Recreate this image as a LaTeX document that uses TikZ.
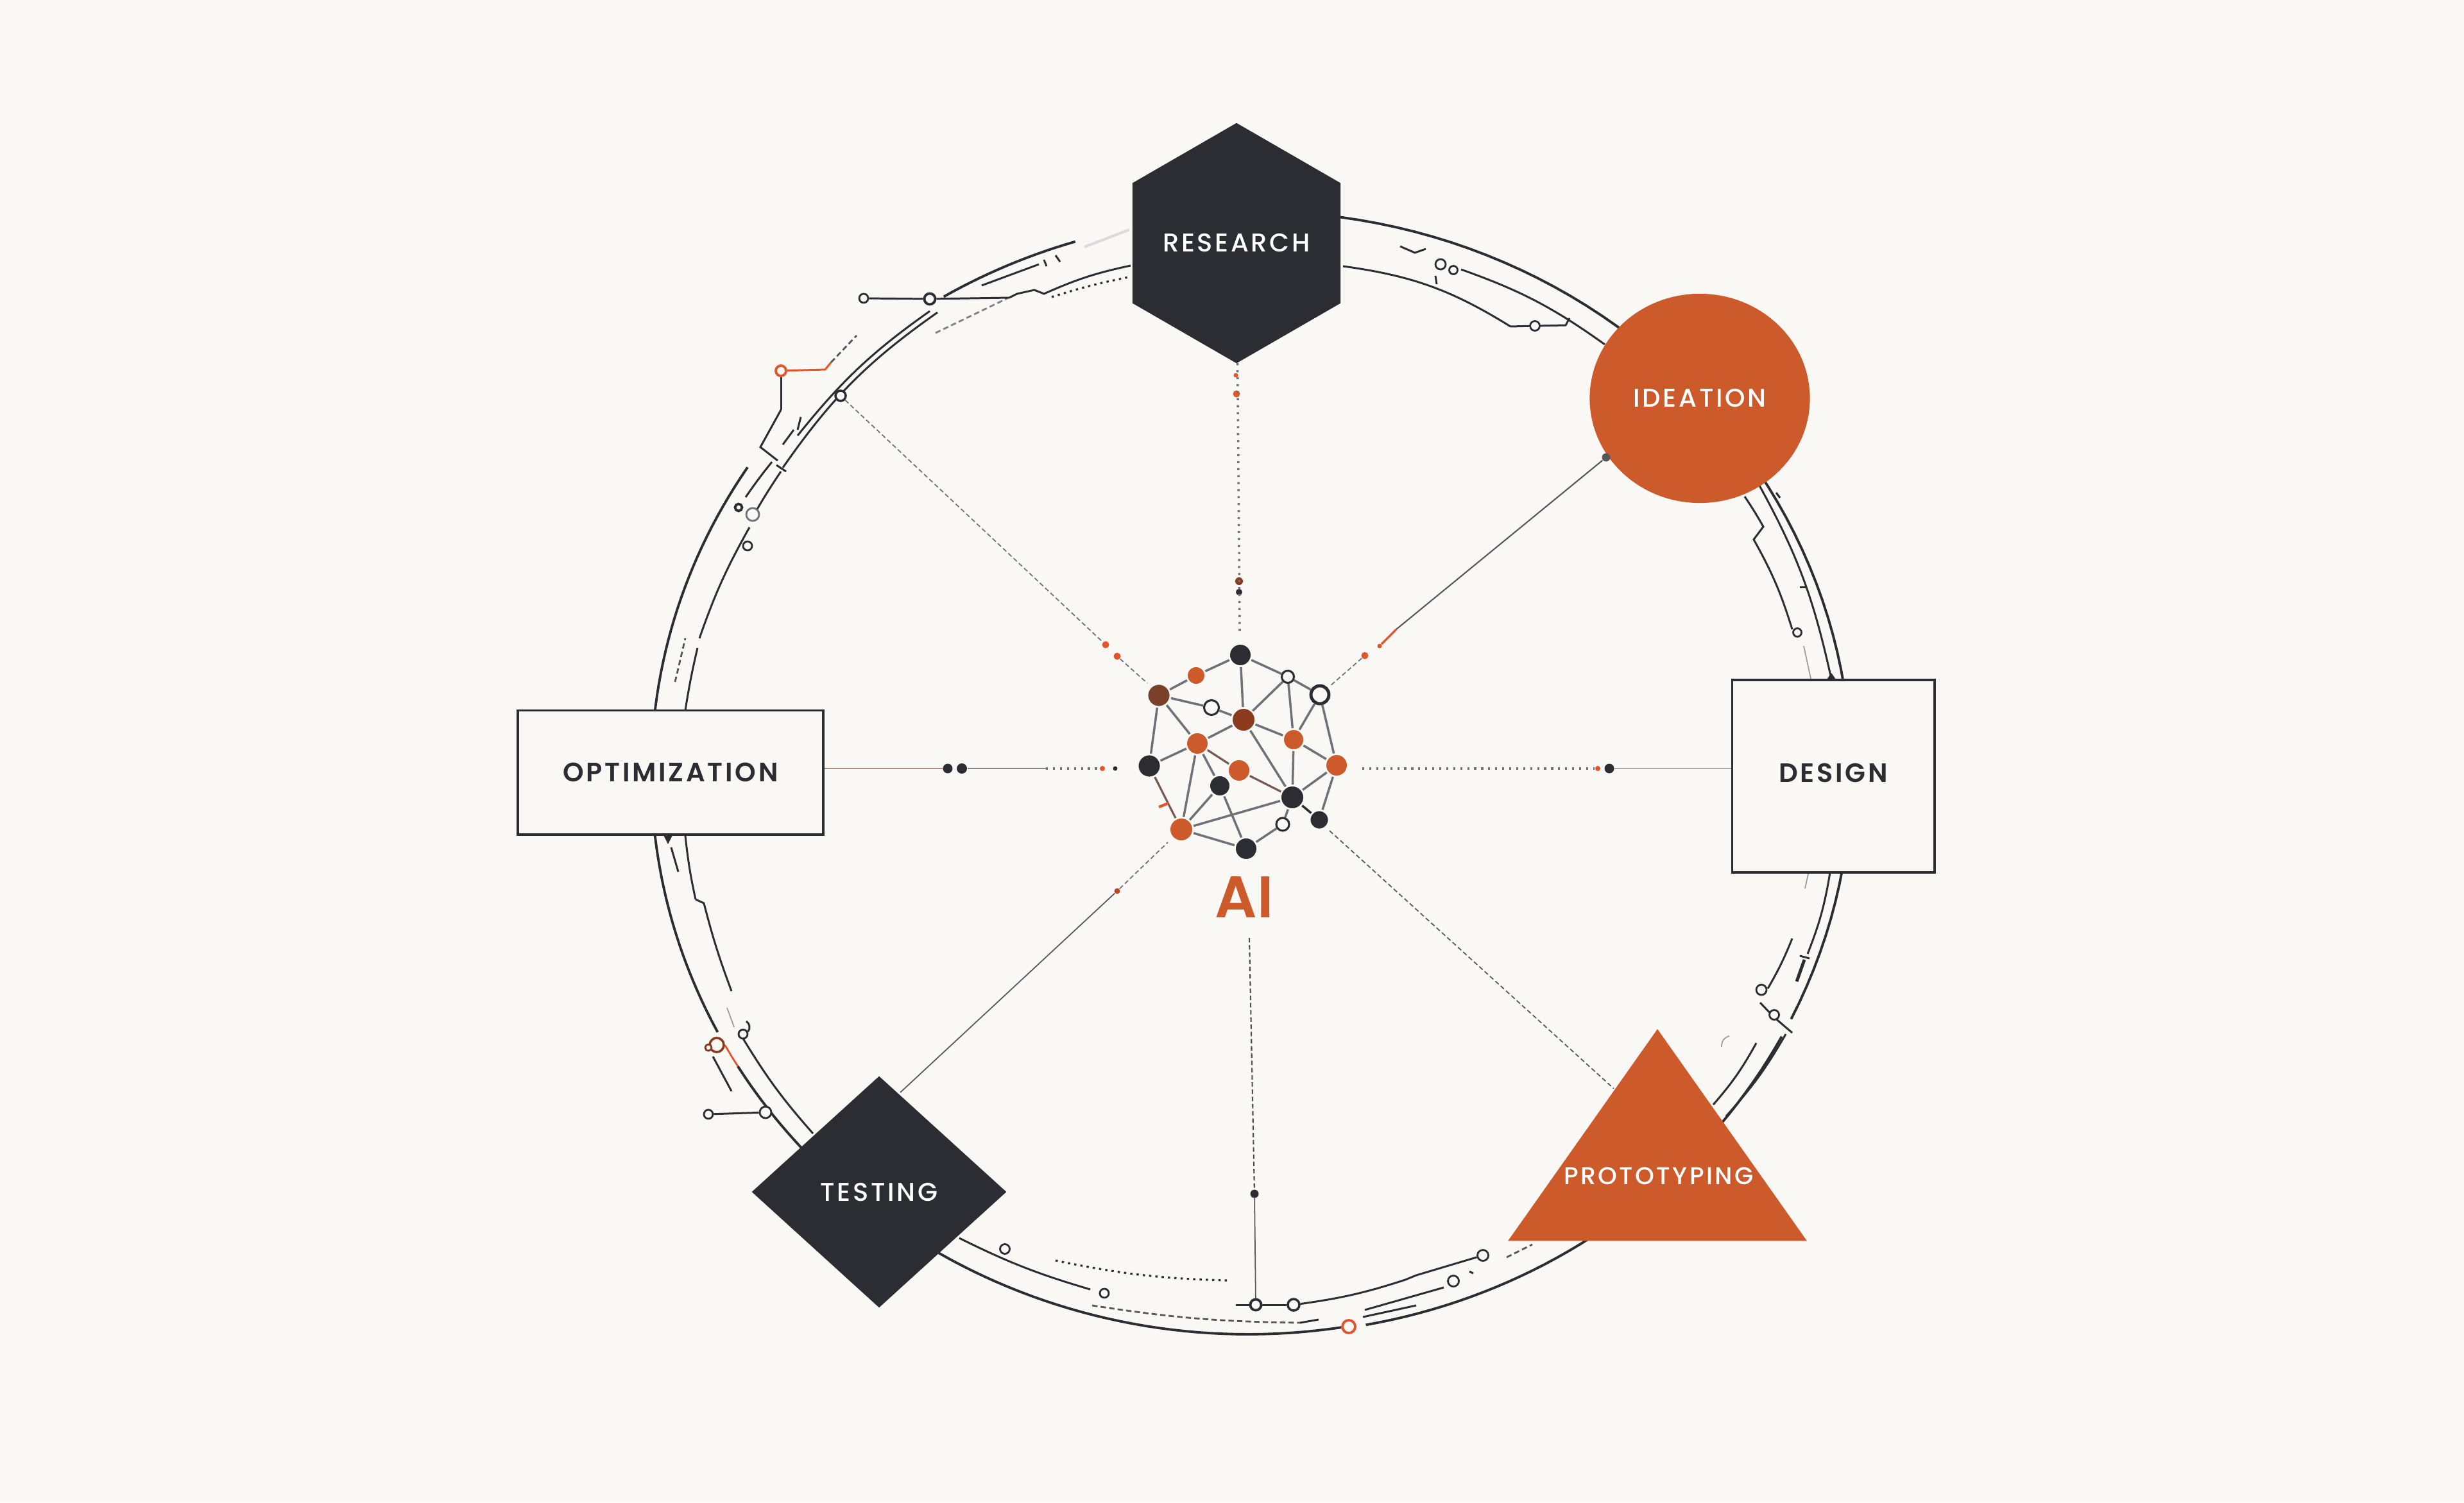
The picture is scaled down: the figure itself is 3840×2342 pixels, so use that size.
\documentclass[tikz,border=0pt]{standalone}
\usepackage{tikz}
\usepackage{xcolor}
\usepackage{fontspec}
\usetikzlibrary{shapes.geometric}
\definecolor{paper}{HTML}{FAF8F4}
\definecolor{inkdark}{HTML}{2B2D33}
\definecolor{rustorange}{HTML}{CC5A2B}
\definecolor{hotorange}{HTML}{E2552A}
\definecolor{brownhub}{HTML}{7A4029}
\definecolor{redbrownhub}{HTML}{8C3A1E}
\definecolor{edgegrey}{HTML}{6F7179}
\newfontfamily\stagefont[LetterSpace=9]{Poppins Medium}
\newfontfamily\boxfont[LetterSpace=9]{Poppins SemiBold}
\newfontfamily\aifont{Poppins SemiBold}
\begin{document}
\begin{tikzpicture}[x=.01cm, y=-.01cm,
	ringline/.style={draw=inkdark, line width=1.1pt},
	wire/.style={draw=inkdark, line width=.85pt},
	faintwire/.style={draw=edgegrey!70, line width=.5pt},
	dashwire/.style={draw=inkdark!80, line width=.8pt, dash pattern=on 2.4pt off 1.4pt},
	dotwire/.style={draw=inkdark, line width=.9pt, dash pattern=on 1pt off 1.8pt},
	tap/.style={circle, draw=inkdark, fill=paper, line width=.8pt, inner sep=0pt, minimum size=.14cm},
	taporange/.style={tap, draw=hotorange},
	spokedot/.style={draw=edgegrey, line width=1pt, dash pattern=on .9pt off 2.2pt},
	spokedash/.style={draw=edgegrey, line width=.5pt, dash pattern=on 2pt off 1.2pt},
	spokeline/.style={draw=inkdark!80, line width=.6pt},
	spokepale/.style={draw=edgegrey!60, line width=.8pt},
	speckdark/.style={circle, fill=inkdark, inner sep=0pt, minimum size=.13cm},
	speckred/.style={circle, fill=hotorange, inner sep=0pt, minimum size=.11cm},
	hubedge/.style={draw=edgegrey, line width=1pt},
	hubwarm/.style={draw=brownhub!50!edgegrey, line width=.9pt},
	hubdark/.style={circle, fill=inkdark, draw=paper, line width=.8pt, inner sep=0pt},
	huborange/.style={hubdark, fill=rustorange},
	hubbrown/.style={hubdark, fill=brownhub},
	hubrust/.style={hubdark, fill=redbrownhub},
	hubring/.style={circle, fill=paper, draw=inkdark, line width=.9pt, inner sep=0pt},
	stagewhite/.style={text=white, font=\stagefont\fontsize{11.4}{13}\selectfont, inner sep=0pt},
	stageink/.style={text=inkdark, font=\boxfont\fontsize{11.8}{13}\selectfont, inner sep=0pt},
	stagehex/.style={stagewhite, regular polygon, regular polygon sides=6, shape border rotate=30, fill=inkdark, minimum size=3.68cm},
	stageball/.style={stagewhite, ellipse, fill=rustorange, minimum width=3.43cm, minimum height=3.26cm},
	stagebox/.style={stageink, rectangle, draw=inkdark, fill=paper, line width=1.1pt},
	stagediamond/.style={stagewhite, diamond, fill=inkdark, minimum width=3.97cm, minimum height=3.61cm},
	stagetriangle/.style={isosceles triangle, isosceles triangle apex angle=70.4, shape border rotate=90, fill=rustorange, inner sep=0pt, minimum height=3.3cm, anchor=apex},
	]
	\fill[paper] (0,0) rectangle (3840,2342);
	\useasboundingbox (0,0) rectangle (3840,2342);

	\draw[ringline] plot[domain=-82:26, samples=60] ({1960+925*cos(\x)},{1205+875*sin(\x)});
	\draw[ringline] plot[domain=28:79.5, samples=40] ({1960+925*cos(\x)},{1205+875*sin(\x)});
	\draw[ringline] plot[domain=81:130, samples=40] ({1945+930*cos(\x)},{1205+875*sin(\x)});
	\draw[ringline] plot[domain=125:148.5, samples=30] ({1930+915*cos(\x)},{1205+875*sin(\x)});
	\draw[draw=hotorange, line width=.8pt] plot[domain=148.5:151, samples=5] ({1930+915*cos(\x)},{1205+875*sin(\x)});
	\draw[ringline] plot[domain=152.5:180, samples=30] ({1930+915*cos(\x)},{1205+875*sin(\x)});
	\draw[ringline] plot[domain=180:213, samples=30] ({1945+930*cos(\x)},{1205+875*sin(\x)});
	\draw[ringline] plot[domain=-121:-107, samples=15] ({1945+930*.99*cos(\x)},{1205+875*.99*sin(\x)});
	\draw[wire] (1243,679) to[bend left=8] (1449,485);
	\draw[wire] (1220,729) to[bend left=10] (1461,487);
	\draw[wire] (1174,804) to[bend left=2] (1217,735);
	\draw[wire] (1162,775) to[bend left=2] (1203,720);
	\draw[wire] (1068,1107) to[bend left=2] (1087,1010);
	\draw[wire] (1090,995) to[bend left=5] (1168,822);
	\draw[dashwire] (1052,1063) -- (1068,995);
	\draw[wire] (1217,639) -- (1185,697) -- (1212,718);
	\draw[wire] (1248,650) -- (1243,670);
	\draw[wire] (1237,670) -- (1220,693);
	\draw[wire] (1210,725) -- (1225,735);
	\draw[dashwire, draw=inkdark!60] (1458,519) -- (1570,465);
	\draw[dotwire] (1639,463) to[bend left=3] (1759,432);
	\draw[wire] (1530,445) -- (1619,412);
	\draw[wire] (1573,464) -- (1585,458) -- (1612,452) -- (1627,458) to[bend left=6] (1762,414);
	\draw[faintwire, draw=edgegrey!25, line width=1.2pt] (1690,385) -- (1760,358);
	\draw[wire] (1627,405) -- (1631,415);
	\draw[wire] (1645,398) -- (1652,408);
	\draw[wire] (2093,415) to[bend left=12] (2354,509);
	\draw[wire] (2277,420) to[bend left=8] (2501,537);
	\draw[wire] (2182,384) -- (2205,394) -- (2222,388);
	\draw[wire] (2237,430) -- (2239,443);
	\draw[wire] (2742,757) to[bend left=8] (2851,1045);
	\draw[wire] (2719,774) to[bend left=2] (2748,821) -- (2733,841) to[bend left=6] (2793,981);
	\draw[faintwire] (2811,1007) -- (2822,1058);
	\draw[wire] (2768,768) -- (2774,776);
	\draw[wire] (2805,915) -- (2815,915);
	\draw[wire] (2851,1045) -- (2854,1058);
	\fill[inkdark] (2847,1059) -- (2861,1059) -- (2854,1049) -- cycle;
	\draw[wire] (2852,1360) to[bend left=6] (2817,1487);
	\draw[wire, line width=1.4pt] (2812,1496) -- (2800,1530);
	\draw[wire] (2805,1490) -- (2820,1494);
	\draw[wire] (2793,1463) to[bend left=4] (2755,1541);
	\draw[wire] (2743,1563) -- (2765,1586) -- (2793,1610);
	\draw[wire] (2783,1612) to[bend left=6] (2690,1740);
	\draw[wire] (2737,1626) to[bend left=6] (2670,1722);
	\draw[faintwire] (2818,1362) -- (2813,1385);
	\draw[faintwire] (2695,1615) to[bend right=40] (2683,1632);
	\draw[wire] (1068,1303) to[bend left=-3] (1084,1402);
	\draw[wire] (1084,1402) -- (1097,1408) to[bend right=3] (1140,1545);
	\draw[faintwire] (1133,1571) -- (1144,1601);
	\draw[wire] (1046,1321) -- (1057,1359);
	\fill[inkdark] (1034,1302) -- (1048,1302) -- (1041,1316) -- cycle;
	\draw[wire] (1111,1647) -- (1140,1701);
	\draw[wire] (1158,1619) to[bend right=5] (1267,1767);
	\draw[wire] (1495,1930) to[bend right=5] (1699,2010);
	\draw[dashwire] (1702,2035) to[bend right=4] (2026,2062);
	\draw[wire] (2026,2062) -- (2055,2057);
	\draw[dotwire] (1645,1965) to[bend right=5] (1912,1996);
	\draw[wire] (2127,2042) -- (2250,2007);
	\draw[wire] (2290,1982) -- (2296,1985);
	\draw[wire] (2124,2053) -- (2207,2035);
	\draw[dashwire] (2348,1960) -- (2388,1940);

	\node[tap] (tapnwa) at (1346,465) {};
	\node[tap, line width=1.1pt, minimum size=.17cm] (tapnwb) at (1449,466) {};
	\node[taporange, line width=1.1pt, minimum size=.16cm] (tapflag) at (1217,578) {};
	\coordinate (flagelbow) at (1286,576);
	\coordinate (flagfoot) at (1217,639);
	\node[tap, line width=1pt, minimum size=.16cm] (tapspoke) at (1310,617) {};
	\node[tap, minimum size=.2cm, draw=edgegrey] (tapleftb) at (1173,802) {};
	\node[tap, line width=1.1pt, minimum size=.11cm] (taplefta) at (1151,791) {};
	\node[tap] (tapleftc) at (1165,851) {};
	\node[tap, minimum size=.15cm] (tapc) at (2392,508) {};
	\coordinate (tapcend) at (2440,507);
	\node[tap, minimum size=.16cm] (tapd) at (2245,412) {};
	\node[tap, minimum size=.13cm] (tape) at (2265,421) {};
	\node[tap, minimum size=.13cm] (tapf) at (2801,986) {};
	\node[tap, minimum size=.16cm] (tapg) at (2745,1543) {};
	\node[tap, minimum size=.15cm] (taph) at (2765,1582) {};
	\node[taporange, line width=1pt, minimum size=.22cm, draw=redbrownhub, fill=paper] (tapredb) at (1117,1629) {};
	\node[taporange, minimum size=.1cm, draw=redbrownhub] (tapreda) at (1104,1633) {};
	\node[tap, minimum size=.14cm] (tapi) at (1158,1612) {};
	\coordinate (tapihook) at (1163,1592);
	\node[tap, minimum size=.18cm] (tapj) at (1193,1734) {};
	\node[tap, minimum size=.14cm] (tapk) at (1104,1737) {};
	\node[tap, minimum size=.15cm] (tapl) at (1566,1947) {};
	\node[tap, minimum size=.14cm] (tapm) at (1721,2016) {};
	\node[tap, line width=1.1pt, minimum size=.17cm] (tapn) at (1957,2034) {};
	\node[tap, line width=1pt, minimum size=.18cm] (tapo) at (2016,2034) {};
	\coordinate (tapostub) at (1926,2034);
	\node[taporange, line width=1.1pt, minimum size=.2cm] (tapp) at (2102,2068) {};
	\node[tap, minimum size=.17cm] (tapq) at (2311,1957) {};
	\node[tap, minimum size=.17cm] (tapr) at (2265,1997) {};

	\draw[wire] (tapnwa) -- (tapnwb);
	\draw[wire] (tapnwb) -- (1573,464);
	\draw[draw=hotorange, line width=.85pt] (tapflag) -- (flagelbow) -- (1295,565);
	\draw[dashwire] (1295,565) -- (1335,523);
	\draw[wire] (tapflag) -- (flagfoot);
	\draw[wire] (2354,509) -- (tapc);
	\draw[wire] (tapc) -- (tapcend) -- (2446,496);
	\draw[wire] (tapi) to[bend right=50] (tapihook);
	\draw[wire] (tapk) -- (tapj);
	\draw[wire] (tapostub) -- (tapn);
	\draw[wire] (tapn) -- (tapo);
	\draw[wire] (tapo) to[bend right=5] (2190,1995) -- (2207,1988);
	\draw[wire] (2207,1988) -- (tapq);

	\node[stagehex] (research) at (1927,379) {RESEARCH};
	\node[stageball] (ideation) at (2649,621) {IDEATION};
	\node[stagebox, minimum width=3.15cm, minimum height=2.99cm] (design) at (2857,1210) {\raisebox{-.095cm}[0pt][0pt]{DESIGN}};
	\node[stagebox, minimum width=4.76cm, minimum height=1.93cm] (optimization) at (1045,1204) {OPTIMIZATION};
	\node[stagediamond] (testing) at (1370,1858) {TESTING};
	\node[stagetriangle] (triangle) at (2583,1603) {};
	\node[stagewhite, font=\stagefont\fontsize{10.8}{13}\selectfont] (prototyping) at (2585,1833) {PROTOTYPING};
	\node[text=rustorange, font=\aifont\fontsize{26}{28}\selectfont, inner sep=0pt] (ailabel) at (1939,1399) {AI};

	\node[hubdark, minimum size=.35cm] (h1) at (1933,1021) {};
	\node[huborange, minimum size=.29cm] (h2) at (1864,1053) {};
	\node[hubbrown, minimum size=.36cm] (h3) at (1806,1084) {};
	\node[hubring, minimum size=.23cm] (h4) at (1888,1103) {};
	\node[hubrust, minimum size=.37cm] (h5) at (1938,1122) {};
	\node[hubring, minimum size=.19cm] (h6) at (2007,1055) {};
	\node[hubring, line width=1.4pt, minimum size=.28cm] (h7) at (2057,1083) {};
	\node[huborange, minimum size=.33cm] (h8) at (2016,1153) {};
	\node[huborange, minimum size=.35cm] (h9) at (1866,1159) {};
	\node[hubdark, minimum size=.36cm] (h10) at (1791,1194) {};
	\node[huborange, minimum size=.35cm] (h11) at (1931,1201) {};
	\node[hubdark, minimum size=.33cm] (h12) at (1901,1225) {};
	\node[huborange, minimum size=.35cm] (h13) at (2083,1193) {};
	\node[hubdark, minimum size=.37cm] (h14) at (2014,1243) {};
	\node[hubdark, minimum size=.3cm] (h15) at (2056,1278) {};
	\node[hubring, minimum size=.2cm] (h16) at (1999,1285) {};
	\node[huborange, minimum size=.37cm] (h17) at (1841,1293) {};
	\node[hubdark, minimum size=.35cm] (h18) at (1942,1323) {};

	\draw[hubedge] (h1) -- (h2);
	\draw[hubedge] (h2) -- (h3);
	\draw[hubedge] (h1) -- (h6);
	\draw[hubedge] (h1) -- (h5);
	\draw[hubedge] (h6) -- (h7);
	\draw[hubedge] (h6) -- (h5);
	\draw[hubedge] (h6) -- (h8);
	\draw[hubedge] (h7) -- (h8);
	\draw[hubedge] (h7) -- (h13);
	\draw[hubedge] (h3) -- (h4);
	\draw[hubedge] (h4) -- (h5);
	\draw[hubedge] (h3) -- (h9);
	\draw[hubedge] (h3) -- (h10);
	\draw[hubedge] (h5) -- (h9);
	\draw[hubedge] (h5) -- (h8);
	\draw[hubedge] (h5) -- (h14);
	\draw[hubedge] (h8) -- (h13);
	\draw[hubedge] (h8) -- (h14);
	\draw[hubedge] (h9) -- (h10);
	\draw[hubwarm] (h9) -- (h11);
	\draw[hubedge] (h9) -- (h12);
	\draw[hubedge] (h9) -- (h17);
	\draw[hubwarm] (h10) -- (h17);
	\draw[hubwarm] (h11) -- (h14);
	\draw[hubedge] (h12) -- (h17);
	\draw[hubedge] (h12) -- (h18);
	\draw[hubedge] (h17) -- (h14);
	\draw[hubedge] (h17) -- (h18);
	\draw[hubedge] (h18) -- (h16);
	\draw[hubedge] (h16) -- (h14);
	\draw[hubedge] (h14) -- (h13);
	\draw[hubedge, draw=inkdark] (h14) -- (h15);
	\draw[hubedge] (h13) -- (h15);
	\draw[draw=hotorange, line width=1.2pt] (1806,1258) -- (1821,1252);

	\coordinate (topend) at (1932,985);
	\node[speckred, minimum size=.07cm] (topreda) at (1926,585) {};
	\node[speckred] (topredb) at (1927,614) {};
	\node[speckred, fill=redbrownhub, minimum size=.12cm] (topredc) at (1931,906) {};
	\node[speckdark, minimum size=.1cm] (topdark) at (1931,923) {};
	\draw[spokedot] (research) -- (topend);

	\node[speckred] (nwreda) at (1723,1005) {};
	\node[speckred] (nwredb) at (1741,1023) {};
	\coordinate (nwend) at (1788,1065);
	\draw[spokedash] (tapspoke) -- (nwreda);
	\draw[spokedash] (nwredb) -- (nwend);

	\node[speckdark, fill=inkdark!80] (ideationtap) at (2503,713) {};
	\node[speckred, minimum size=.07cm] (nereda) at (2150,1007) {};
	\node[speckred] (neredb) at (2127,1022) {};
	\coordinate (neend) at (2072,1070);
	\draw[spokeline] (ideationtap) -- (2176,981);
	\draw[draw=hotorange, line width=.9pt] (2176,981) -- (nereda);
	\draw[spokedash] (neredb) -- (neend);

	\coordinate (designstart) at (2123,1198);
	\node[speckred, minimum size=.08cm] (designred) at (2490,1198) {};
	\node[speckdark, minimum size=.15cm] (designdot) at (2508,1198) {};
	\draw[spokedot] (designstart) -- (designred);
	\draw[spokepale] (designdot) -- (design.west |- designdot);

	\node[speckdark, minimum size=.15cm] (optdota) at (1477,1198) {};
	\node[speckdark, minimum size=.16cm] (optdotb) at (1499,1198) {};
	\node[speckred, minimum size=.08cm] (optred) at (1718,1198) {};
	\node[speckdark, minimum size=.07cm] (optdark) at (1738,1198) {};
	\coordinate (optdash) at (1630,1198);
	\draw[draw=rustorange!35!edgegrey!75, line width=.8pt] (optimization.east |- optdota) -- (optdota);
	\draw[spokepale, draw=edgegrey!85] (optdotb) -- (optdash);
	\draw[spokedot] (optdash) -- (optred);

	\coordinate (testingedge) at (1403,1703);
	\node[speckred, fill=hotorange!85!black, minimum size=.09cm] (swred) at (1741,1389) {};
	\coordinate (swend) at (1820,1313);
	\draw[spokeline, line width=.5pt] (testingedge) -- (swred);
	\draw[spokedash] (swred) -- (swend);

	\coordinate (seend) at (2072,1295);
	\coordinate (triangleedge) at (2515,1697);
	\draw[spokedash, draw=inkdark!80] (seend) -- (triangleedge);

	\coordinate (aistart) at (1947,1462);
	\node[speckdark] (bottomdot) at (1955,1861) {};
	\draw[spokedash, draw=inkdark!85, line width=.6pt] (aistart) -- (bottomdot);
	\draw[spokeline, line width=.5pt] (bottomdot) -- (tapn);
\end{tikzpicture}
\end{document}
